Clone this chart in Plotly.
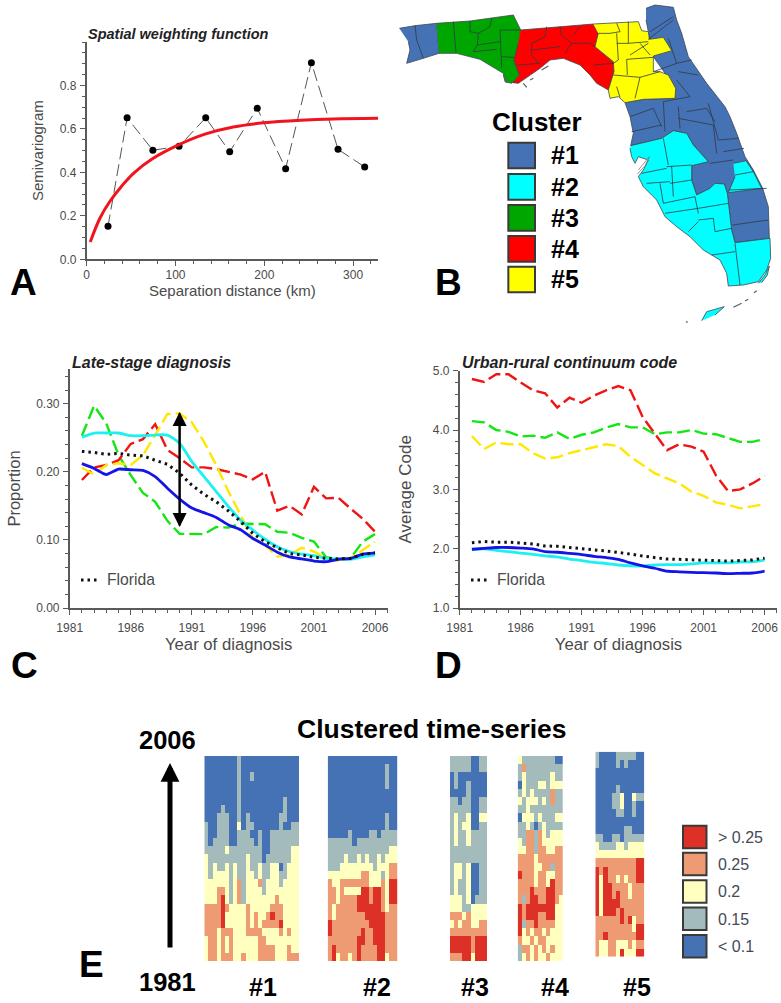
import plotly.graph_objects as go

W, H = 781, 1003
FONT = "Liberation Sans, Arial, sans-serif"
AXC = "#5a5a5a"
TXT = "#4a4a4a"

# ---------- Panel A ----------
var_dist = [24, 45.5, 74.5, 104, 134, 161, 192, 224, 253, 283, 313]
var_gamma = [0.152, 0.651, 0.502, 0.52, 0.651, 0.495, 0.695, 0.417, 0.905, 0.506, 0.425]
fit_dist = [4, 15, 26, 40, 53, 74, 104, 134, 165, 199, 241, 278, 329]
fit_gamma = [0.08, 0.19, 0.266, 0.34, 0.397, 0.463, 0.528, 0.577, 0.609, 0.628, 0.64, 0.646, 0.649]

# ---------- Panels C and D ----------
years = list(range(1982, 2007))
c_blue = [.212,.205,.196,.204,.203,.202,.193,.176,.160,.147,.140,.133,.122,.115,.102,.0925,.082,.075,.072,.069,.068,.0715,.073,.079,.081]
c_cyan = [.251,.257,.257,.257,.253,.253,.254,.254,.242,.215,.193,.171,.149,.129,.1145,.101,.09,.083,.079,.077,.073,.072,.0715,.075,.078]
c_fl = [.230,.2285,.2255,.227,.2245,.2235,.217,.211,.198,.1805,.167,.156,.1425,.127,.1095,.0975,.0885,.080,.078,.0745,.073,.072,.073,.079,.081]
c_red = [.188,.2065,.21,.217,.241,.248,.27,.232,.22,.2065,.2065,.204,.2,.196,.189,.200,.143,.150,.1375,.178,.161,.162,.146,.131,.112]
c_green = [.253,.297,.271,.2245,.195,.169,.156,.128,.109,.1085,.1085,.119,.118,.124,.123,.123,.112,.1105,.103,.0975,.0745,.072,.073,.0975,.1085]
c_yellow = [.206,.196,.21,.2125,.21,.2245,.254,.285,.286,.2725,.244,.21,.171,.1365,.102,.0925,.0755,.078,.0885,.083,.073,.069,.073,.085,.0975]

d_red = [4.86,4.81,4.94,4.94,4.80,4.67,4.62,4.38,4.545,4.46,4.58,4.67,4.74,4.67,4.22,3.94,3.66,3.76,3.72,3.635,3.24,2.97,3.0,3.1,3.225]
d_green = [4.15,4.13,4.0,3.97,3.89,3.905,3.87,3.96,3.85,3.92,3.96,4.04,4.10,4.045,4.045,3.93,3.96,3.96,4.0,3.94,3.93,3.86,3.80,3.80,3.85]
d_yellow = [3.90,3.68,3.79,3.76,3.76,3.61,3.52,3.54,3.61,3.66,3.72,3.76,3.73,3.55,3.41,3.27,3.185,3.10,2.96,2.89,2.78,2.74,2.68,2.71,2.75]
d_fl = [2.10,2.12,2.11,2.11,2.095,2.08,2.045,2.04,2.02,1.995,1.98,1.96,1.94,1.91,1.875,1.855,1.825,1.82,1.815,1.81,1.80,1.79,1.80,1.81,1.84]
d_blue = [1.99,2.005,2.02,2.02,2.01,1.995,1.95,1.94,1.92,1.90,1.87,1.85,1.82,1.76,1.71,1.67,1.62,1.61,1.60,1.595,1.59,1.58,1.585,1.59,1.62]
d_cyan = [1.98,1.995,1.97,1.95,1.925,1.905,1.88,1.86,1.825,1.80,1.77,1.75,1.725,1.71,1.71,1.725,1.73,1.73,1.745,1.76,1.76,1.76,1.775,1.78,1.81]

# ---------- Panel B map (map units, one outline per region) ----------
map_west = [(28,85),(75,77),(140,70),(147,160),(100,175),(50,190),(60,150),(55,125)]
map_blue = [(768,25),(795,15),(850,22),(860,60),(875,100),(895,170),(950,250),(1005,320),(1020,350),(1040,400),(1065,470),(1090,510),(1118,565),(1135,620),(1138,715),(1035,728),(1025,690),(1012,580),(1003,552),(975,550),(960,565),(920,585),(905,540),(905,497),(955,485),(910,435),(890,400),(850,392),(815,415),(722,437),(730,400),(720,350),(705,308),(760,298),(855,295),(857,265),(790,170),(778,118),(775,95),(768,60)]
map_green = [(140,70),(240,63),(370,45),(392,90),(385,130),(372,180),(388,225),(365,250),(345,245),(340,220),(315,205),(270,178),(200,160),(147,160)]
map_red = [(392,90),(610,72),(625,100),(615,140),(670,185),(672,215),(655,270),(620,250),(600,225),(570,195),(520,175),(480,180),(450,205),(420,225),(385,250),(368,248),(388,225),(372,180),(385,130)]
map_yellow = [(610,72),(745,65),(755,92),(775,95),(778,118),(820,112),(845,152),(790,168),(790,215),(810,215),(835,225),(857,265),(855,295),(760,298),(705,308),(685,290),(660,295),(655,270),(672,215),(670,185),(615,140),(625,100)]
map_cyan = [(722,437),(815,415),(850,392),(890,400),(910,435),(955,485),(905,497),(905,540),(920,585),(960,565),(975,550),(1003,552),(1012,580),(1025,690),(1035,728),(1140,715),(1142,775),(1130,810),(1105,845),(1060,855),(1015,858),(1010,820),(990,780),(940,750),(900,710),(860,680),(825,650),(800,600),(760,560),(745,530),(760,510),(775,480),(745,470),(735,490),(725,470),(720,445)]
map_cyan_east = [(1030,490),(1068,482),(1090,515),(1115,565),(1015,578),(1035,530)]
map_cyan_keys = [(935,962),(950,935),(1003,920),(975,945)]
map_cyan_reef = [(1105,850),(1125,825),(1138,798),(1132,825),(1115,848)]
map_bay = [(742,522),(765,497),(778,470),(762,490),(745,510)]
map_islets = [[(1030,922),(1055,910)], [(1065,903),(1075,898)], [(1092,878),(1100,872)], [(888,965),(893,967)],
              [(420,240),(430,235)], [(455,210),(475,198)], [(400,250),(410,262)], [(340,225),(350,248)]]
map_county_lines = [
    [(75,77),(80,120),(100,175)],
    [(190,65),(198,158)], [(240,63),(240,95),(265,100),(262,135),(250,155)], [(305,55),(300,80),(265,100)],
    [(262,135),(330,125)], [(330,90),(392,90)], [(330,90),(335,205)], [(335,170),(372,172)], [(250,155),(320,148)],
    [(470,80),(465,110),(425,130),(425,165),(445,190)], [(385,195),(450,190)], [(425,150),(510,140)],
    [(510,80),(515,105),(545,130),(525,160)], [(545,130),(600,130),(615,140)], [(570,80),(550,105)], [(610,195),(672,190)],
    [(680,70),(690,95),(660,100),(625,100)], [(715,65),(715,130),(680,130)], [(680,100),(685,180),(670,190)],
    [(715,130),(775,125)], [(720,165),(775,130)], [(710,178),(712,225)], [(750,130),(780,165)], [(670,225),(750,232)],
    [(750,232),(735,295)], [(750,232),(810,215)], [(680,260),(690,292)], [(710,178),(790,172)],
    [(775,118),(850,60)], [(780,95),(850,50)], [(835,115),(860,190)], [(860,190),(905,180)], [(865,215),(925,225)],
    [(790,215),(860,190)], [(860,240),(900,290)], [(900,290),(820,305)], [(820,305),(825,395)], [(865,320),(870,385)],
    [(865,355),(970,375)], [(890,335),(950,325),(975,365)], [(955,310),(985,420)], [(970,375),(980,460)],
    [(720,350),(790,325)], [(790,325),(815,380)], [(725,395),(815,375)], [(985,420),(1045,415)], [(1000,455),(1062,445)],
    [(960,490),(1030,480)], [(1018,570),(1130,565)], [(1028,675),(1135,660)],
    [(755,520),(830,505)], [(830,500),(905,495)], [(820,415),(835,495)], [(840,550),(905,540)], [(845,500),(850,590)],
    [(770,550),(840,545)], [(810,550),(820,610)], [(820,610),(915,590)], [(915,590),(925,640)], [(825,640),(925,625)],
    [(925,625),(1015,610)], [(925,660),(970,655),(975,695),(1025,685)], [(895,695),(925,665)],
    [(965,765),(1035,755)], [(1035,730),(1050,855)], [(1035,525),(1090,515)],
]

legend_clusters = ["#1", "#2", "#3", "#4", "#5"]
cluster_colors = ["#4472B4", "#00FFFF", "#00A600", "#FF0000", "#FFFF00"]

# ---------- Panel E heat maps: 1 <0.1, 2 0.15, 3 0.2, 4 0.25, 5 >0.25; top row = 2006 ----------
grid_1 = """11111 11121 11111 11111 111
11111 11121 11111 11111 111
11111 11121 12111 11111 111
11111 11121 11111 11111 111
11111 11121 11111 11111 111
11111 11121 11111 11112 111
11112 11121 11111 11112 111
11122 21121 21111 11122 111
21122 21131 22111 11121 122
21122 21122 21121 12222 222
21222 21122 22121 12222 222
22222 32222 22221 12222 233
32222 22222 32221 22222 233
32322 32322 32232 23312 333
32333 32322 33232 23322 333
33333 32342 33342 33323 333
33344 32342 33332 33333 333
33345 32342 33333 33433 333
44445 43333 43333 34443 333
44445 33333 43433 45443 333
44445 33333 43434 44453 333
44434 44333 44443 33343 433
34434 34333 33344 33333 333
34434 34333 33344 44333 433
34434 44334 33344 44333 444"""
grid_2 = """11111 11111 11111 11
11111 11111 11112 11
11111 11111 11112 11
11111 11111 11112 11
11111 11111 11111 11
11111 11111 11111 11
11111 11111 11111 11
11111 11111 11112 11
11111 11111 11112 11
11111 21111 22122 22
22222 21222 22222 22
22222 22222 22222 33
22223 22323 22323 33
22233 33333 32333 44
33333 33344 33323 44
43344 44444 33343 55
44343 33355 45543 55
44344 44555 45543 55
43444 44555 55543 44
43444 44445 55554 44
54444 44444 55554 44
54444 44454 45554 44
44444 44554 45554 44
45444 44544 44554 44
45344 34544 44553 44"""
grid_3 = """22222 1122
22222 1122
12111 1111
12112 1111
11112 1111
22122 1122
22222 1122
23223 1133
23233 1122
23223 2222
23223 2222
22222 2222
22222 2222
23323 1122
23323 1122
23223 1122
23223 1122
33323 1222
33322 3333
44434 3333
34344 3344
44444 4444
55555 4555
55555 4555
44455 3555"""
grid_4 = """32222 22221 1
24222 22222 2
23222 22232 2
13222 33233 3
23232 22242 2
32333 23242 2
22322 22222 2
13332 32223 3
22321 23222 2
22442 43233 3
32442 43333 3
33442 44334 4
44443 44444 4
44443 34424 4
54443 44334 4
44443 44354 4
44454 44554 4
42455 44554 3
54555 55553 3
54555 44553 3
52445 44443 3
53434 43433 3
43343 44333 3
24434 34343 3
23434 33433 3"""
grid_5 = """21111 22222 11
21111 21211 11
11111 11111 11
11111 11111 11
11111 21111 11
11112 23113 22
11112 23112 11
11111 22112 11
11111 11111 11
11111 11221 11
22112 21222 22
32222 33233 33
33333 33333 33
44444 44444 55
54544 44444 55
53544 34344 55
53554 44434 44
53554 54434 44
53555 54444 44
53555 45444 44
44444 45453 44
44444 44443 55
44544 44444 55
43344 33343 44
43344 35333 55"""
heat_grids = [grid_1, grid_2, grid_3, grid_4, grid_5]
heat_labels = ["#1", "#2", "#3", "#4", "#5"]
level_names = ["> 0.25", "0.25", "0.2", "0.15", "< 0.1"]
level_colors = ["#DD3127", "#EE9A72", "#FFFFBF", "#A3BBBB", "#4472B4"]


def px(x):
    return x / W


def py(y):
    return 1 - y / H


def dom_x(a, b):
    return [px(a), px(b)]


def dom_y(top, bottom):
    return [py(bottom), py(top)]


def poly(points_list):
    xs, ys = [], []
    for pts in points_list:
        for p in pts:
            xs.append(p[0])
            ys.append(p[1])
        xs.append(None)
        ys.append(None)
    return xs, ys


def matrix(text):
    return [[int(ch) for ch in row.replace(" ", "")] for row in text.splitlines()]


fig = go.Figure()
ann = []
shp = []


def label(x, y, text, size, color="black", anchor="center", bold=True, **kw):
    t = f"<b>{text}</b>" if bold else text
    ann.append(dict(x=px(x), y=py(y), xref="paper", yref="paper", text=t, showarrow=False,
                    xanchor=anchor, yanchor="middle", font=dict(family=FONT, size=size, color=color), **kw))


def axis(**kw):
    base = dict(showline=True, linecolor=AXC, linewidth=1.5, ticks="outside", tickcolor=AXC, ticklen=5,
                tickwidth=1, showgrid=False, zeroline=False, automargin=False,
                tickfont=dict(family=FONT, size=12, color=TXT))
    base.update(kw)
    return base


def axtitle(text, standoff, size=15):
    return dict(text=text, standoff=standoff, font=dict(family=FONT, size=size, color=TXT))


# ---- A
fig.add_trace(go.Scatter(x=var_dist, y=var_gamma, mode="lines+markers", xaxis="x", yaxis="y",
                         line=dict(color="#555555", width=1, dash="12px,5px"),
                         marker=dict(color="black", size=7)))
fig.add_trace(go.Scatter(x=fit_dist, y=fit_gamma, mode="lines", xaxis="x", yaxis="y",
                         line=dict(color="#F0141E", width=3, shape="spline")))


# ---- C and D
def series(vals, color, xa, ya, dotted=False, solid=False):
    if dotted:
        line = dict(color="#111111", width=3, dash="2.5px,4px")
    elif solid:
        line = dict(color=color, width=2.8, shape="spline", smoothing=0.6)
    else:
        line = dict(color=color, width=2.4, dash="13px,5px")
    fig.add_trace(go.Scatter(x=years, y=vals, mode="lines", line=line, xaxis=xa, yaxis=ya))


GRN, RED, YEL, CYA, BLU = "#14E614", "#F01414", "#FFE800", "#1CF0F0", "#1414E6"
series(c_green, GRN, "x2", "y2")
series(c_red, RED, "x2", "y2")
series(c_yellow, YEL, "x2", "y2")
series(c_cyan, CYA, "x2", "y2", solid=True)
series(c_blue, BLU, "x2", "y2", solid=True)
series(c_fl, "", "x2", "y2", dotted=True)
series(d_red, RED, "x3", "y3")
series(d_green, GRN, "x3", "y3")
series(d_yellow, YEL, "x3", "y3")
series(d_cyan, CYA, "x3", "y3", solid=True)
series(d_blue, BLU, "x3", "y3", solid=True)
series(d_fl, "", "x3", "y3", dotted=True)

# ---- B
for pts_list, color in [([map_west, map_blue], cluster_colors[0]),
                        ([map_cyan, map_cyan_east, map_cyan_keys, map_cyan_reef], cluster_colors[1]),
                        ([map_green], cluster_colors[2]), ([map_red], cluster_colors[3]), ([map_yellow], cluster_colors[4])]:
    xs, ys = poly(pts_list)
    fig.add_trace(go.Scatter(x=xs, y=ys, mode="lines", fill="toself", fillcolor=color,
                             line=dict(color="#3c4650", width=0.8), xaxis="x4", yaxis="y4"))
xs, ys = poly(map_county_lines)
fig.add_trace(go.Scatter(x=xs, y=ys, mode="lines", line=dict(color="#2f3a44", width=0.8), xaxis="x4", yaxis="y4"))
xs, ys = poly(map_islets)
fig.add_trace(go.Scatter(x=xs, y=ys, mode="lines", line=dict(color="#555f66", width=1.2), xaxis="x4", yaxis="y4"))
xs, ys = poly([map_bay])
fig.add_trace(go.Scatter(x=xs, y=ys, mode="lines", fill="toself", fillcolor="white",
                         line=dict(color="#555555", width=0.6), xaxis="x4", yaxis="y4"))

# ---- E
colorscale = []
for i, c in enumerate(reversed(level_colors)):
    colorscale += [[i / 5, c], [(i + 1) / 5, c]]
heat_boxes = [(204.3, 299, 756, 961), (327.7, 397.3, 756, 961), (450, 487.3, 756, 961),
              (517.7, 563, 756, 961), (595.3, 644.3, 751.7, 956.7)]
heat_label_x = [263, 377, 475, 555, 637]
layout_axes = {}
for i, (grid, box) in enumerate(zip(heat_grids, heat_boxes)):
    n = i + 5
    fig.add_trace(go.Heatmap(z=matrix(grid), colorscale=colorscale, zmin=0.5, zmax=5.5, showscale=False,
                             xaxis=f"x{n}", yaxis=f"y{n}"))
    layout_axes[f"xaxis{n}"] = dict(domain=dom_x(box[0], box[1]), visible=False, anchor=f"y{n}")
    layout_axes[f"yaxis{n}"] = dict(domain=dom_y(box[2], box[3]), visible=False, anchor=f"x{n}", autorange="reversed")
    label(heat_label_x[i], 987, heat_labels[i], 25)

# legend for E
leg_tops = [825.7, 852.8, 880.3, 907.5, 935]
for name, color, top in zip(level_names, level_colors, leg_tops):
    shp.append(dict(type="rect", xref="paper", yref="paper", x0=px(683), x1=px(706.5), y0=py(top), y1=py(top + 22.5),
                    fillcolor=color, line=dict(color="#3a3a3a", width=2)))
    label(716, top + 11.5, name, 16, color="#444a55", anchor="left", bold=False)

# legend for B
box_tops = [428, 522, 615, 708, 800]
for name, color, top in zip(legend_clusters, cluster_colors, box_tops):
    shp.append(dict(type="rect", xref="x4", yref="y4", x0=355, x1=435, y0=top, y1=top + 77,
                    fillcolor=color, line=dict(color="#3a3a3a", width=2)))
    ann.append(dict(x=478, y=top + 38, xref="x4", yref="y4", text=f"<b>{name}</b>", showarrow=False, xanchor="left",
                    yanchor="middle", font=dict(family=FONT, size=25, color="black")))
ann.append(dict(x=440, y=365, xref="x4", yref="y4", text="<b>Cluster</b>", showarrow=False, xanchor="center",
                yanchor="middle", font=dict(family=FONT, size=26, color="black")))

# Titles and panel letters
label(86, 34, "<i>Spatial weighting function</i>", 14.5, color="#222222", anchor="left")
label(70, 362, "<i>Late-stage diagnosis</i>", 16, color="#222222", anchor="left")
label(460, 362, "<i>Urban-rural continuum code</i>", 16, color="#222222", anchor="left")
label(23, 282, "A", 37)
label(449, 282, "B", 37)
label(24, 665, "C", 37)
label(448, 665, "D", 37)
label(91, 964, "E", 37)
label(432, 729, "Clustered time-series", 26.5)
label(167, 740, "2006", 25.5)
label(167, 982, "1981", 25.5)
label(105, 579, "Florida", 15.7, color=TXT, anchor="left", bold=False)
label(495, 579, "Florida", 15.7, color=TXT, anchor="left", bold=False)

# Florida keys
shp.append(dict(type="line", xref="paper", yref="paper", x0=px(81), x1=px(100), y0=py(580), y1=py(580),
                line=dict(color="#111111", width=3, dash="2.5px,4px")))
shp.append(dict(type="line", xref="paper", yref="paper", x0=px(471), x1=px(490), y0=py(580), y1=py(580),
                line=dict(color="#111111", width=3, dash="2.5px,4px")))

# Double arrow in C
for tip, tail in [(0.288, 0.119), (0.119, 0.288)]:
    ann.append(dict(x=1990, y=tip, ax=1990, ay=tail, xref="x2", yref="y2", axref="x2", ayref="y2", text="",
                    showarrow=True, arrowhead=2, arrowsize=1.4, arrowwidth=2, arrowcolor="black"))
# Big arrow in E
ann.append(dict(x=px(170), y=py(763), xref="paper", yref="paper", axref="pixel", ayref="pixel", ax=0, ay=186, text="",
                showarrow=True, arrowhead=2, arrowsize=0.75, arrowwidth=5, arrowcolor="black"))

fig.update_layout(
    width=W, height=H, margin=dict(l=0, r=0, t=0, b=0), paper_bgcolor="white", plot_bgcolor="white",
    showlegend=False, annotations=ann, shapes=shp,
    xaxis=axis(domain=dom_x(86.7, 378), range=[0, 328], anchor="y", tickvals=[0, 100, 200, 300], ticklabelstandoff=-1,
               minor=dict(dtick=20, tick0=0, ticks="outside", ticklen=3, tickcolor=AXC),
               title=axtitle("Separation distance (km)", 4)),
    yaxis=axis(domain=dom_y(42, 259.3), range=[0, 1.0], anchor="x", tickvals=[0, 0.2, 0.4, 0.6, 0.8], tickformat=".1f",
               ticklabelstandoff=1,
               minor=dict(dtick=0.05, tick0=0, ticks="outside", ticklen=3, tickcolor=AXC),
               title=axtitle("Semivariogram", 13)),
    xaxis2=axis(domain=dom_x(69.7, 387.7), range=[1981, 2007.04], anchor="y2", tickvals=[1981, 1986, 1991, 1996, 2001, 2006],
                ticklabelstandoff=3,
                minor=dict(dtick=1, tick0=1981, ticks="outside", ticklen=3, tickcolor=AXC),
                title=axtitle("Year of diagnosis", 3, 16.7)),
    yaxis2=axis(domain=dom_y(369, 608), range=[0, 0.351], anchor="x2", tickvals=[0, 0.1, 0.2, 0.3], tickformat=".2f",
                ticklabelstandoff=1,
                minor=dict(dtick=0.02, tick0=0, ticks="outside", ticklen=3, tickcolor=AXC),
                title=axtitle("Proportion", 11, 16.5)),
    xaxis3=axis(domain=dom_x(459.7, 777.3), range=[1981, 2007.04], anchor="y3", tickvals=[1981, 1986, 1991, 1996, 2001, 2006],
                ticklabelstandoff=3,
                minor=dict(dtick=1, tick0=1981, ticks="outside", ticklen=3, tickcolor=AXC),
                title=axtitle("Year of diagnosis", 3, 16.7)),
    yaxis3=axis(domain=dom_y(370.7, 608), range=[1, 5], anchor="x3", tickvals=[1, 2, 3, 4, 5], tickformat=".1f",
                ticklabelstandoff=1,
                minor=dict(dtick=0.2, tick0=1, ticks="outside", ticklen=3, tickcolor=AXC),
                title=axtitle("Average Code", 17, 17)),
    xaxis4=dict(domain=dom_x(390, 781), range=[0, 1173], visible=False, anchor="y4"),
    yaxis4=dict(domain=dom_y(0, 330), range=[990, 0], visible=False, anchor="x4"),
    **layout_axes,
)
fig.write_html("out.html", post_script="document.body.style.margin='0';", config={"displayModeBar": False})
